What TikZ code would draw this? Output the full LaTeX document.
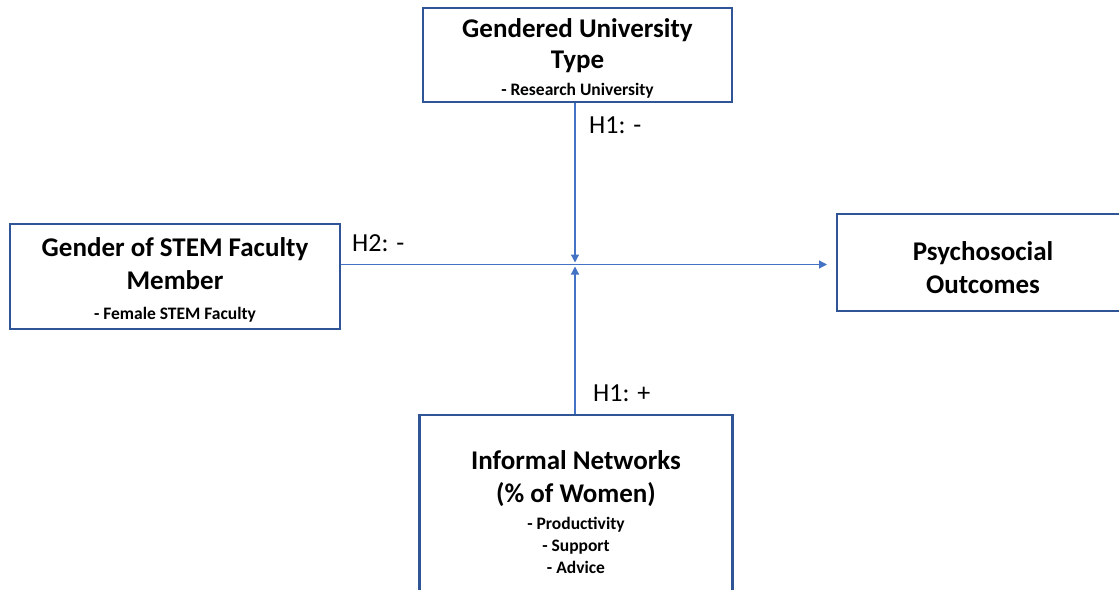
\documentclass[tikz,border=0pt]{standalone}
\usepackage{fontspec}
\setmainfont{Carlito}
\usetikzlibrary{arrows.meta}
\definecolor{boxblue}{HTML}{2F5597}
\definecolor{linkblue}{HTML}{4472C4}
% bullet lines under a box title
\newcommand\subitems[1]{{\fontsize{17.5}{22}\selectfont\begin{tabular}[t]{@{}c@{}}#1\end{tabular}}}
% extra room above the first title line, lowering the text block a little
\newcommand\topgap{\rule{0pt}{30pt}}
\tikzset{
  box/.style={draw=boxblue, line width=2.3pt, align=center, inner sep=0pt,
    font=\fontsize{27}{33}\selectfont\bfseries},
  link/.style={draw=linkblue, line width=1.2pt},
  linkarrow/.style={link, -{Triangle[length=8pt,width=8pt]}},
  hyp/.style={anchor=west, inner sep=0pt, font=\fontsize{26}{30}\selectfont}
}
\begin{document}
\begin{tikzpicture}[x=1pt,y=-1pt]
  \useasboundingbox (0,0) rectangle (1119,589);
  % boxes
  \node[box, minimum width=309pt, minimum height=92pt] (uni) at (577.5,55)
    {\topgap Gendered University\\[-2pt]Type\\[-6pt]\subitems{- Research University}};
  \node[box, minimum width=330pt, minimum height=105pt] (gender) at (175,276.5)
    {\topgap Gender of STEM Faculty\\Member\\[-3pt]\subitems{- Female STEM Faculty}};
  \node[box, minimum width=292pt, minimum height=97pt] (outc) at (983,262.5)
    {\topgap Psychosocial\\Outcomes};
  \node[box, minimum width=313pt, minimum height=190pt] (net) at (576,510)
    {\topgap Informal Networks\\(\% of Women)\\[-6pt]\subitems{- Productivity\\- Support\\- Advice}};
  % junction where the moderators meet the main path
  \coordinate (j) at (575,264.5);
  \coordinate (jtop) at (575,262.5);
  \coordinate (jbot) at (575,266.5);
  \coordinate (mainend) at (827,264.5);
  % connectors
  \draw[linkarrow] (gender.east |- j) -- (mainend);
  \draw[linkarrow] (uni.south -| j) -- (jtop);
  \draw[linkarrow] (net.north -| j) -- (jbot);
  % hypothesis labels
  \node[hyp] (h1top) at (589,125) {H1: -};
  \node[hyp] (h2) at (352,243) {H2: -};
  \node[hyp] (h1bot) at (593,393) {H1: +};
\end{tikzpicture}
\end{document}
